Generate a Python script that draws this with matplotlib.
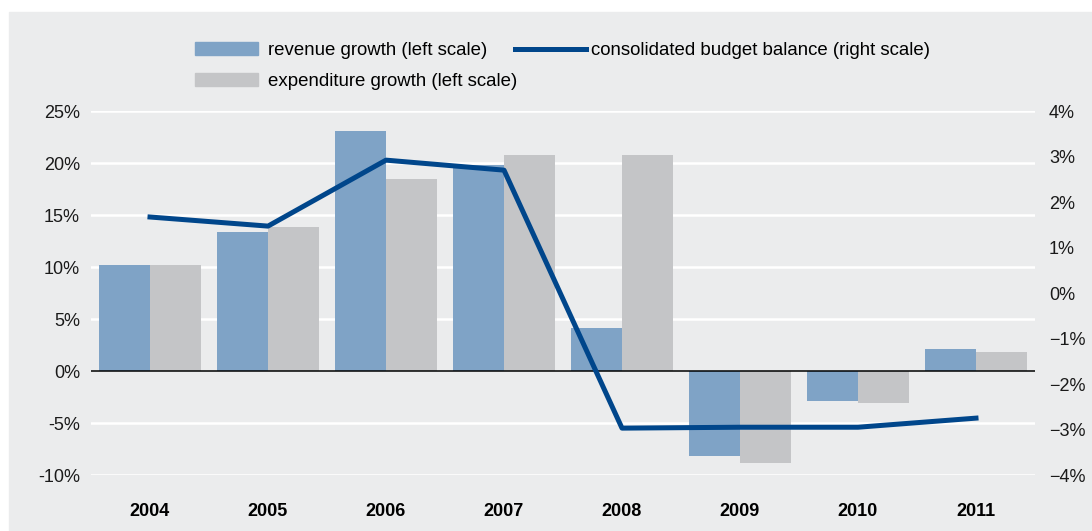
import numpy as np
import matplotlib.pyplot as plt
from matplotlib.patches import Rectangle, Patch
from matplotlib.lines import Line2D

# ---- data -------------------------------------------------------------
years = ["2004", "2005", "2006", "2007", "2008", "2009", "2010", "2011"]
revenue_growth = [10.2, 13.4, 23.1, 19.8, 4.1, -8.2, -2.9, 2.1]        # % (left)
expenditure_growth = [10.2, 13.8, 18.5, 20.8, 20.8, -8.8, -3.1, 1.8]    # % (left)
budget_balance = [1.67, 1.47, 2.92, 2.70, -2.97, -2.95, -2.95, -2.75]   # % (right)

left_ticks = [-10, -5, 0, 5, 10, 15, 20, 25]
right_ticks = [-4, -3, -2, -1, 0, 1, 2, 3, 4]

# ---- style ------------------------------------------------------------
BG = "#ebeced"
C_REV = "#7fa3c6"
C_EXP = "#c4c5c7"
C_BAL = "#00468b"
plt.rcParams["font.family"] = ["Liberation Sans", "DejaVu Sans"]
FS = 13
FS_LEG = 13.4

fig = plt.figure(figsize=(10.92, 5.31), dpi=100, facecolor="white")
fig.patches.append(Rectangle((9 / 1092, 0), 1, 1 - 12 / 531,
                             transform=fig.transFigure, color=BG, zorder=-10))

ax = fig.add_axes([91 / 1092, 1 - 475 / 531, (1035 - 91) / 1092, (475 - 111) / 531])
ax.set_facecolor(BG)

x = np.arange(len(years))
w = 0.43
ax.bar(x - w / 2, revenue_growth, w, color=C_REV, zorder=2)
ax.bar(x + w / 2, expenditure_growth, w, color=C_EXP, zorder=2)

for t in left_ticks:
    if t != 0:
        ax.axhline(t, color="white", lw=1.8, zorder=1)
ax.axhline(0, color="black", lw=1.1, zorder=3)

ax.set_xlim(-0.5, len(years) - 0.5)
ax.set_ylim(-10, 25)
ax.set_yticks(left_ticks)
ax.set_yticklabels([f"{t}%" for t in left_ticks], fontsize=FS, color="#1a1a1a")
ax.set_xticks(x)
ax.set_xticklabels(years, fontsize=FS, fontweight="bold")
ax.tick_params(axis="y", length=0, pad=8)
ax.tick_params(axis="x", length=0, pad=20)
for s in ax.spines.values():
    s.set_visible(False)

ax2 = ax.twinx()
ax2.plot(x, budget_balance, color=C_BAL, lw=3.6, zorder=5)
ax2.set_ylim(-4, 4)
ax2.set_yticks(right_ticks)
ax2.set_yticklabels([f"{t}%".replace("-", "\u2212") for t in right_ticks],
                    fontsize=FS, color="#1a1a1a")
ax2.tick_params(axis="y", length=0, pad=10)
for s in ax2.spines.values():
    s.set_visible(False)

# ---- legend -------------------------------------------------------------
bar_handles = [Patch(color=C_REV), Patch(color=C_EXP)]
fig.legend(bar_handles,
           ["revenue growth (left scale)", "expenditure growth (left scale)"],
           loc="upper left", bbox_to_anchor=(195 / 1092, 1 - 42 / 531),
           frameon=False, fontsize=FS_LEG, handlelength=3.4, handleheight=0.7,
           handletextpad=0.5, labelspacing=0.75, borderpad=0, borderaxespad=0)
fig.legend([Line2D([], [], color=C_BAL, lw=3.6)],
           ["consolidated budget balance (right scale)"],
           loc="upper left", bbox_to_anchor=(515 / 1092, 1 - 42 / 531),
           frameon=False, fontsize=FS_LEG, handlelength=3.8,
           handletextpad=0.3, borderpad=0, borderaxespad=0)

fig.savefig("out.png", dpi=100, facecolor=fig.get_facecolor())
